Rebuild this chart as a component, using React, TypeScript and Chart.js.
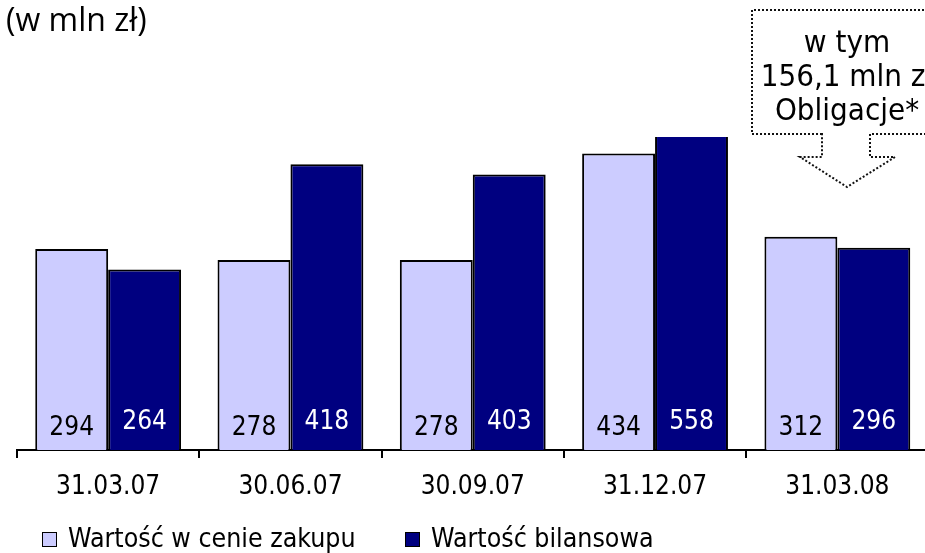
import React, { useEffect, useRef } from 'react';
import { Chart, registerables } from 'chart.js';

Chart.register(...registerables);

const categories = ['31.03.07', '30.06.07', '30.09.07', '31.12.07', '31.03.08'];
const purchaseValues = [294, 278, 278, 434, 312];
const balanceValues = [264, 418, 403, 558, 296];
const seriesLabels = ['Wartość w cenie zakupu', 'Wartość bilansowa'];
const unitLabel = '(w mln zł)';
const noteLines = ['w tym', '156,1 mln zł', 'Obligacje*'];
const yMax = 458;

const LIGHT = '#CCCCFF';
const DARK = '#000080';
const FONT = "'DejaVu Sans Condensed', 'DejaVu Sans', sans-serif";

const valueLabelsPlugin = {
  id: 'valueLabels',
  afterDatasetsDraw(chart: any) {
    const ctx = chart.ctx;
    const bottom = chart.chartArea.bottom;
    ctx.save();
    ctx.font = `26px ${FONT}`;
    ctx.textAlign = 'center';
    ctx.textBaseline = 'middle';
    chart.data.datasets.forEach((ds: any, di: number) => {
      const meta = chart.getDatasetMeta(di);
      meta.data.forEach((el: any, i: number) => {
        ctx.fillStyle = di === 0 ? '#000' : '#fff';
        const y = di === 0 ? bottom - 22 : bottom - 28;
        ctx.fillText(String(ds.data[i]), el.x, y);
      });
    });
    ctx.restore();
  },
};

const decorPlugin = {
  id: 'decor',
  afterDraw(chart: any) {
    const ctx = chart.ctx;
    ctx.save();
    // unit title
    ctx.fillStyle = '#000';
    ctx.font = "32px 'Open Sans', sans-serif";
    ctx.textAlign = 'left';
    ctx.textBaseline = 'middle';
    ctx.fillText(unitLabel, 6, 22);

    // annotation callout
    ctx.strokeStyle = '#111';
    ctx.lineWidth = 2;
    ctx.setLineDash([2, 2]);
    ctx.beginPath();
    ctx.moveTo(822, 134);
    ctx.lineTo(752, 134);
    ctx.lineTo(752, 10);
    ctx.lineTo(960, 10);
    ctx.lineTo(960, 134);
    ctx.lineTo(870, 134);
    ctx.lineTo(870, 157);
    ctx.lineTo(895, 157);
    ctx.lineTo(847, 187);
    ctx.lineTo(800, 157);
    ctx.lineTo(822, 157);
    ctx.closePath();
    ctx.stroke();
    ctx.setLineDash([]);

    ctx.font = `31px ${FONT}`;
    ctx.textAlign = 'center';
    ctx.textBaseline = 'middle';
    noteLines.forEach((t, i) => ctx.fillText(t, 847, 44 + i * 34));

    // legend
    const items = [
      { x: 42, color: LIGHT, label: seriesLabels[0] },
      { x: 405, color: DARK, label: seriesLabels[1] },
    ];
    ctx.font = `26.5px ${FONT}`;
    ctx.textAlign = 'left';
    items.forEach((it) => {
      ctx.fillStyle = it.color;
      ctx.fillRect(it.x, 532, 15, 15);
      ctx.strokeStyle = '#000';
      ctx.lineWidth = 1;
      ctx.strokeRect(it.x + 0.5, 532.5, 14, 14);
      ctx.fillStyle = '#000';
      ctx.fillText(it.label, it.x + 26, 540);
    });
    ctx.restore();
  },
};

export default function App() {
  const ref = useRef<HTMLCanvasElement>(null);
  useEffect(() => {
    if (!ref.current) return;
    const chart = new Chart(ref.current, {
      type: 'bar',
      data: {
        labels: categories,
        datasets: [
          {
            label: seriesLabels[0],
            data: purchaseValues,
            backgroundColor: LIGHT,
            borderColor: '#000',
            borderWidth: 2,
            clip: 0,
          } as any,
          {
            label: seriesLabels[1],
            data: balanceValues,
            backgroundColor: DARK,
            borderColor: '#000',
            borderWidth: 2,
            clip: 0,
          } as any,
        ],
      },
      options: {
        responsive: false,
        animation: false,
        layout: { padding: { left: 17, right: 11.5, top: 137, bottom: 0 } },
        datasets: { bar: { categoryPercentage: 0.8, barPercentage: 1.0 } },
        plugins: {
          legend: { display: false },
          tooltip: { enabled: false },
          title: { display: false },
        },
        scales: {
          x: {
            grid: {
              display: true,
              drawOnChartArea: false,
              drawTicks: true,
              tickLength: 8,
              offset: true,
              color: '#000',
              lineWidth: 2,
            },
            border: { display: true, color: '#000', width: 2 },
            ticks: {
              color: '#000',
              font: { family: FONT, size: 26 },
              padding: 14,
              maxRotation: 0,
            },
            afterFit: (scale: any) => {
              scale.height = 103;
            },
          },
          y: {
            display: false,
            min: 0,
            max: yMax,
          },
        },
      },
      plugins: [valueLabelsPlugin, decorPlugin],
    });
    return () => chart.destroy();
  }, []);
  return (
    <div style={{ position: 'fixed', left: 0, top: 0, width: 940, height: 553, background: '#fff' }}>
      <canvas ref={ref} width={940} height={553} />
    </div>
  );
}
